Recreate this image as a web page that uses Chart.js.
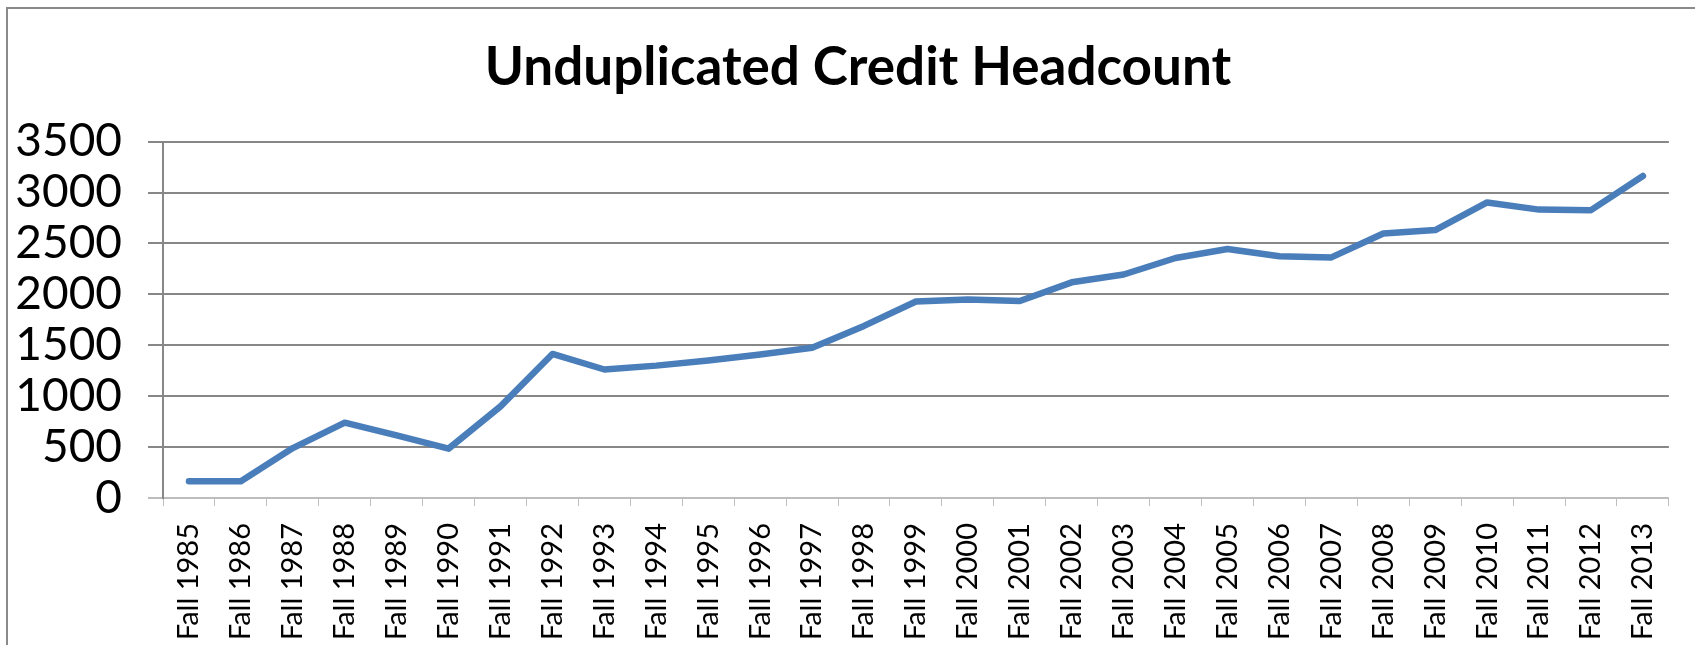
<!DOCTYPE html>
<html>
<head>
<meta charset="utf-8">
<script src="https://cdn.jsdelivr.net/npm/chart.js@4/dist/chart.umd.min.js"></script>
<style>
  html, body { margin: 0; padding: 0; background: #fff; }
  #wrap { position: relative; width: 1695px; height: 645px; }
</style>
</head>
<body>
<div id="wrap"><canvas id="c" width="1695" height="645"></canvas></div>
<script>
const categories = ["Fall 1985","Fall 1986","Fall 1987","Fall 1988","Fall 1989","Fall 1990","Fall 1991","Fall 1992","Fall 1993","Fall 1994","Fall 1995","Fall 1996","Fall 1997","Fall 1998","Fall 1999","Fall 2000","Fall 2001","Fall 2002","Fall 2003","Fall 2004","Fall 2005","Fall 2006","Fall 2007","Fall 2008","Fall 2009","Fall 2010","Fall 2011","Fall 2012","Fall 2013"];
const headcount = [165,165,490,740,615,485,900,1415,1262,1300,1350,1410,1475,1690,1930,1950,1935,2118,2195,2357,2445,2375,2363,2598,2631,2902,2832,2827,3162];
const yTicks = [0,500,1000,1500,2000,2500,3000,3500];
const chartTitle = "Unduplicated Credit Headcount";

const frame = {
  id: 'frame',
  afterLayout(chart) {
    if (chart.titleBlock) { chart.titleBlock.left = 37; }
  },
  beforeDraw(chart) {
    const ctx = chart.ctx;
    ctx.save();
    ctx.fillStyle = '#fff';
    ctx.fillRect(0, 0, chart.width, chart.height);
    ctx.restore();
  },
  afterDraw(chart) {
    const ctx = chart.ctx;
    ctx.save();
    ctx.strokeStyle = '#8a8a8a';
    ctx.lineWidth = 2;
    ctx.beginPath();
    ctx.moveTo(7, chart.height + 2);
    ctx.lineTo(7, 8);
    ctx.lineTo(chart.width + 2, 8);
    ctx.stroke();
    ctx.restore();
  }
};

new Chart(document.getElementById('c'), {
  type: 'line',
  data: {
    labels: categories,
    datasets: [{
      data: headcount,
      borderColor: '#4a7ebb',
      borderWidth: 6.5,
      pointRadius: 0,
      tension: 0,
      fill: false,
      borderCapStyle: 'round',
      borderJoinStyle: 'round'
    }]
  },
  options: {
    responsive: false,
    animation: false,
    layout: { padding: { left: 0, right: 16, top: 0, bottom: 0 } },
    plugins: {
      legend: { display: false },
      tooltip: { enabled: false },
      title: {
        display: true,
        text: chartTitle,
        color: '#000',
        font: { family: 'Lato', size: 53, weight: 'bold', lineHeight: 1.2 },
        padding: { top: 36, bottom: 42 }
      }
    },
    scales: {
      x: {
        offset: true,
        grid: {
          offset: true,
          drawOnChartArea: false,
          drawTicks: true,
          tickLength: 8,
          color: '#bdbdbd',
          lineWidth: 1
        },
        border: { display: true, color: '#bdbdbd', width: 1 },
        ticks: {
          color: '#000',
          font: { family: 'Lato', size: 29 },
          minRotation: 90,
          maxRotation: 90,
          autoSkip: false,
          padding: 17
        },
        afterFit(scale) { scale.height = 147; }
      },
      y: {
        min: 0,
        max: 3500,
        afterBuildTicks(scale) { scale.ticks = yTicks.map(v => ({ value: v })); },
        grid: {
          color: (c) => c.tick && c.tick.value === 0 ? '#bdbdbd' : '#878787',
          lineWidth: 2,
          drawTicks: true,
          tickLength: 15
        },
        border: { display: true, color: '#878787', width: 2 },
        ticks: {
          color: '#000',
          font: { family: 'Lato', size: 46 },
          padding: 26,
          autoSkip: false,
          callback: (v) => String(v)
        },
        afterFit(scale) { scale.width = 163; }
      }
    }
  },
  plugins: [frame]
});
</script>
</body>
</html>
